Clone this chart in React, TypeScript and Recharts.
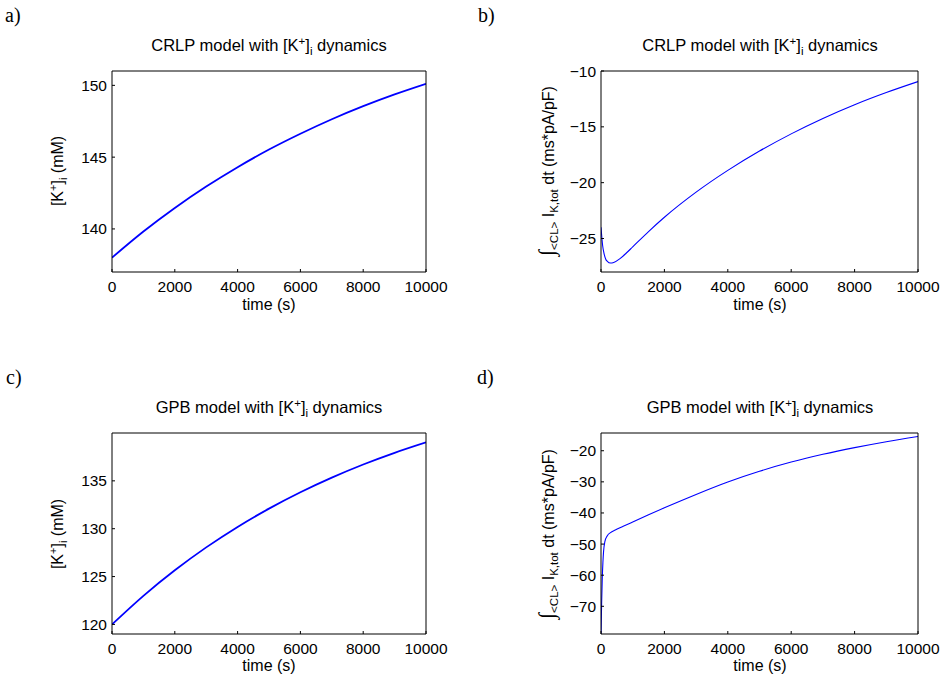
import { LineChart, Line, XAxis, YAxis } from 'recharts';

const FONT = '"Liberation Sans", Arial, Helvetica, sans-serif';
const SERIF = '"Liberation Serif", "Times New Roman", serif';

const xTicks = [0, 2000, 4000, 6000, 8000, 10000];

// a) CRLP, [K+]i (mM)
const timeA = [0, 1000, 2000, 3000, 4000, 5000, 6000, 7000, 8000, 9000, 10000];
const kCrlp = [138.0, 139.82, 141.46, 142.95, 144.3, 145.53, 146.63, 147.64, 148.55, 149.37, 150.11];
const ticksA = [140, 145, 150];

// b) CRLP, integral of I_K,tot
const timeB = [0, 50, 100, 150, 200, 300, 400, 600, 800, 1000, 1500, 2000, 3000, 4000, 5000, 6000, 7000, 8000, 9000, 10000];
const intCrlp = [-24.0, -25.6, -26.4, -26.85, -27.05, -27.2, -27.15, -26.8, -26.3, -25.75, -24.38, -23.1, -20.85, -18.9, -17.17, -15.63, -14.25, -13.02, -11.93, -10.95];
const ticksB = [-25, -20, -15, -10];

// c) GPB, [K+]i (mM)
const timeC = [0, 1000, 2000, 3000, 4000, 5000, 6000, 7000, 8000, 9000, 10000];
const kGpb = [120.0, 122.99, 125.66, 128.05, 130.19, 132.1, 133.81, 135.34, 136.71, 137.93, 139.02];
const ticksC = [120, 125, 130, 135];

// d) GPB, integral of I_K,tot
const timeD = [0, 10, 20, 40, 60, 80, 120, 200, 300, 450, 700, 1000, 1500, 2000, 3000, 4000, 5000, 6000, 7000, 8000, 9000, 10000];
const intGpb = [-79, -74, -69, -61, -56, -52.5, -49.3, -47.3, -46.3, -45.5, -44.3, -42.9, -40.6, -38.35, -34.05, -30.05, -26.6, -23.65, -21.15, -19.0, -17.1, -15.4];
const ticksD = [-70, -60, -50, -40, -30, -20];

const fmt = (v: number) => (v < 0 ? '\u2212' + Math.abs(v) : String(v));

type PanelProps = {
  left: number;
  top: number;
  height: number;
  // plot-box edges inside the panel
  box: { top: number; right: number; bottom: number; left: number };
  time: number[];
  values: number[];
  domain: [number, number];
  yTicks: number[];
  strokeWidth: number;
};

const X_H = 30; // bottom axis height
const Y_W = 40; // left axis width

function Panel({ left, top, height, box, time, values, domain, yTicks, strokeWidth }: PanelProps) {
  const data = time.map((t, i) => ({ t, v: values[i] }));
  const tickStyle = { fill: '#000', fontSize: 15.5, fontFamily: FONT };
  const margin = {
    top: box.top - 1,
    right: box.right - 1,
    bottom: box.bottom - X_H,
    left: box.left - Y_W,
  };
  return (
    <div style={{ position: 'absolute', left, top }}>
      <LineChart width={475} height={height} data={data} margin={margin}>
        <XAxis xAxisId="bottom" dataKey="t" type="number" domain={[0, 10000]} ticks={xTicks} interval={0}
          height={X_H} tickSize={-3} tickMargin={12} tick={tickStyle} stroke="#000" allowDataOverflow />
        <XAxis xAxisId="top" orientation="top" dataKey="t" type="number" domain={[0, 10000]} ticks={xTicks} interval={0}
          height={1} tickSize={-3} tick={false} stroke="#000" allowDataOverflow />
        <YAxis yAxisId="left" type="number" domain={domain} ticks={yTicks} interval={0} width={Y_W}
          tickSize={-3} tickMargin={8} tick={tickStyle} tickFormatter={fmt} stroke="#000" allowDataOverflow />
        <YAxis yAxisId="right" orientation="right" type="number" domain={domain} ticks={yTicks} interval={0} width={1}
          tickSize={-3} tick={false} stroke="#000" allowDataOverflow />
        <Line xAxisId="bottom" yAxisId="left" dataKey="v" type="monotone" stroke="#0000ff"
          strokeWidth={strokeWidth} dot={false} isAnimationActive={false} />
      </LineChart>
    </div>
  );
}

function Title({ x, y, model }: { x: number; y: number; model: string }) {
  return (
    <text x={x} y={y} textAnchor="middle" fontSize={16.5}>
      {model} model with [K<tspan dy={-6} fontSize={11.5}>+</tspan>
      <tspan dy={6}>]</tspan>
      <tspan dy={4} fontSize={11.5}>i</tspan>
      <tspan dy={-4}> dynamics</tspan>
    </text>
  );
}

function KLabel({ x, y }: { x: number; y: number }) {
  return (
    <text transform={`translate(${x},${y}) rotate(-90)`} textAnchor="middle" fontSize={16}>
      [K<tspan dy={-6} fontSize={11}>+</tspan>
      <tspan dy={6}>]</tspan>
      <tspan dy={4} fontSize={11}>i</tspan>
      <tspan dy={-4}> (mM)</tspan>
    </text>
  );
}

function IntLabel({ x, y }: { x: number; y: number }) {
  return (
    <text transform={`translate(${x},${y}) rotate(-90)`} textAnchor="middle" fontSize={16}>
      <tspan fontSize={22} fontFamily={SERIF}>∫</tspan>
      <tspan dy={4} fontSize={11.5}>&lt;CL&gt;</tspan>
      <tspan dy={-4}> I</tspan>
      <tspan dy={4} fontSize={11.5}>K,tot</tspan>
      <tspan dy={-4}> dt (ms*pA/pF)</tspan>
    </text>
  );
}

export default function App() {
  return (
    <div style={{ position: 'absolute', left: 0, top: 0, width: 950, height: 681, background: '#fff' }}>
      <Panel left={0} top={0} height={340} box={{ top: 71, right: 49, bottom: 68, left: 112 }}
        time={timeA} values={kCrlp} domain={[137, 151]} yTicks={ticksA} strokeWidth={1.8} />
      <Panel left={475} top={0} height={340} box={{ top: 71, right: 32, bottom: 68, left: 126 }}
        time={timeB} values={intCrlp} domain={[-28, -10]} yTicks={ticksB} strokeWidth={1.1} />
      <Panel left={0} top={340} height={341} box={{ top: 93, right: 49, bottom: 47, left: 112 }}
        time={timeC} values={kGpb} domain={[119, 140]} yTicks={ticksC} strokeWidth={1.8} />
      <Panel left={475} top={340} height={341} box={{ top: 93, right: 32, bottom: 47, left: 126 }}
        time={timeD} values={intGpb} domain={[-78.9, -14.3]} yTicks={ticksD} strokeWidth={1.1} />
      <svg width={950} height={681} style={{ position: 'absolute', left: 0, top: 0, pointerEvents: 'none' }}>
        <g fontFamily={FONT} fill="#000">
          <text x={5} y={22} fontFamily={SERIF} fontSize={20}>a)</text>
          <text x={478} y={22} fontFamily={SERIF} fontSize={20}>b)</text>
          <text x={6} y={384} fontFamily={SERIF} fontSize={20}>c)</text>
          <text x={477} y={384} fontFamily={SERIF} fontSize={20}>d)</text>

          <Title x={269} y={51} model="CRLP" />
          <Title x={760} y={51} model="CRLP" />
          <Title x={269} y={413} model="GPB" />
          <Title x={760} y={413} model="GPB" />

          <KLabel x={62.5} y={171} />
          <IntLabel x={554} y={171} />
          <KLabel x={62.5} y={534} />
          <IntLabel x={554} y={534} />

          <text x={269} y={310} textAnchor="middle" fontSize={16}>time (s)</text>
          <text x={760} y={310} textAnchor="middle" fontSize={16}>time (s)</text>
          <text x={269} y={671} textAnchor="middle" fontSize={16}>time (s)</text>
          <text x={760} y={671} textAnchor="middle" fontSize={16}>time (s)</text>
        </g>
      </svg>
    </div>
  );
}
